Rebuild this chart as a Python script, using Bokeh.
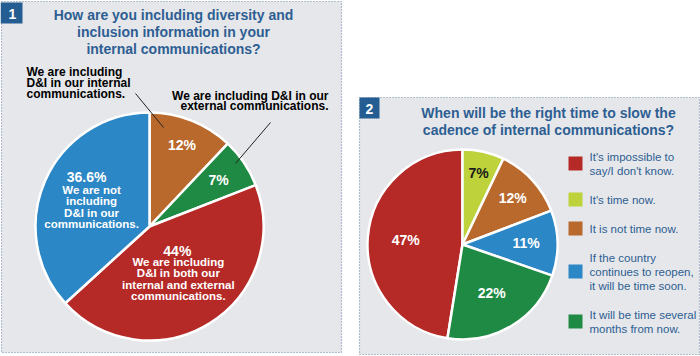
import numpy as np
from bokeh.plotting import figure
from bokeh.models import Range1d, ColumnDataSource
from bokeh.core.properties import value
from bokeh.embed import file_html
from bokeh.resources import INLINE

# ---------------- data ----------------
q1_title = ["How are you including diversity and",
            "inclusion information in your",
            "internal communications?"]
q1_labels = ["We are including\nD&I in our internal\ncommunications.",
             "We are including D&I in our\nexternal communications.",
             "We are including\nD&I in both our\ninternal and external\ncommunications.",
             "We are not\nincluding\nD&I in our\ncommunications."]
q1_values = [12, 7, 44, 36.6]
q1_pct = ["12%", "7%", "44%", "36.6%"]

q2_title = ["When will be the right time to slow the",
            "cadence of internal communications?"]
q2_labels = ["It's impossible to\nsay/I don't know.",
             "It's time now.",
             "It is not time now.",
             "If the country\ncontinues to reopen,\nit will be time soon.",
             "It will be time several\nmonths from now."]
q2_values = [47, 7, 12, 11, 22]
q2_pct = ["47%", "7%", "12%", "11%", "22%"]

# ---------------- styles ----------------
C1 = ["#b8692b", "#1f8a43", "#b52a27", "#2b87c6"]
C2 = ["#b52a27", "#bdd23b", "#b8692b", "#2b87c6", "#1f8a43"]
TITLE_C = "#2d5e93"
PANEL_C = "#e6e7ea"
DOT_C = "#7088a8"
FONT = value("Liberation Sans")

W, H = 700, 356
def fy(ry):
    return H - ry

p = figure(width=W, height=H, output_backend="svg", toolbar_location=None,
           x_range=Range1d(0, W), y_range=Range1d(0, H), min_border=0)
p.axis.visible = False
p.grid.visible = False
p.outline_line_color = None
p.background_fill_color = "white"
p.border_fill_color = "white"

# panels
p.quad(left=[1, 359], right=[341, 699], top=[fy(1), fy(97)], bottom=[fy(352), fy(354)],
       fill_color=PANEL_C, line_color=DOT_C, line_dash="1 2", line_width=1.2)
# badges
p.quad(left=[0, 359], right=[22, 379], top=[fy(2), fy(97)], bottom=[fy(23), fy(118)],
       fill_color="#245d91", line_color=None)
p.text(x=[12, 369], y=[fy(13), fy(108)], text=["1", "2"], text_color="white",
       text_font=FONT, text_font_style="bold", text_font_size="14px",
       text_align="center", text_baseline="middle")

def add_lines(xs, ys, texts, lh, **kw):
    rx, ry, rt = [], [], []
    for x, y, t in zip(xs, ys, texts):
        for i, line in enumerate(t.split("\n")):
            rx.append(x); ry.append(fy(y + i * lh)); rt.append(line)
    p.text(x=rx, y=ry, text=rt, text_font=FONT, text_baseline="middle", **kw)

# titles
add_lines([173], [14], ["\n".join(q1_title)], 17, text_color=TITLE_C,
          text_font_style="bold", text_font_size="14px", text_align="center")
add_lines([548], [112], ["\n".join(q2_title)], 17, text_color=TITLE_C,
          text_font_style="bold", text_font_size="14px", text_align="center")

def pie(cx, cy, r, vals, colors, start_frac=0.0):
    v = np.array(vals, dtype=float)
    frac = v / v.sum()
    cum = np.concatenate([[0], np.cumsum(frac)]) + start_frac
    starts = np.pi / 2 - 2 * np.pi * cum[:-1]
    ends = np.pi / 2 - 2 * np.pi * cum[1:]
    src = ColumnDataSource(dict(start=starts, end=ends, color=colors))
    p.wedge(x=cx, y=fy(cy), radius=r, start_angle="start", end_angle="end",
            direction="clock", fill_color="color", line_color="white",
            line_width=2.5, source=src)
    mid = (cum[:-1] + cum[1:]) / 2
    return mid

def anchors(cx, cy, r, mids, fr):
    xs = [cx + r * f * np.sin(2 * np.pi * m) for f, m in zip(fr, mids)]
    ys = [cy - r * f * np.cos(2 * np.pi * m) for f, m in zip(fr, mids)]
    return xs, ys

# ---- pie 1 ----
c1x, c1y, r1 = 149, 226, 114
mid1 = pie(c1x, c1y, r1, q1_values, C1)
ax1, ay1 = anchors(c1x, c1y, r1, mid1, [0.77, 0.73, 0.48, 0.575])
# small slices: percent only; large slices: percent above description block
pct_x = [ax1[0], ax1[1], ax1[2] - 1, ax1[3] - 3]
pct_y = [ay1[0], ay1[1], ay1[2] - 22.5, ay1[3] - 22.5]
p.text(x=pct_x, y=[fy(v) for v in pct_y], text=q1_pct, text_color="white",
       text_font=FONT, text_font_style="bold", text_font_size="14px",
       text_align="center", text_baseline="middle")
add_lines([ax1[2], ax1[3] + 2], [ay1[2] - 11, ay1[3] - 10], [q1_labels[2], q1_labels[3]], 11.4,
          text_color="white", text_font_style="bold", text_font_size="11.5px",
          text_align="center")
# callouts for small slices
add_lines([26], [71], [q1_labels[0]], 11, text_color="black",
          text_font_style="bold", text_font_size="12px", text_align="left")
add_lines([328], [95], [q1_labels[1]], 10.5, text_color="black",
          text_font_style="bold", text_font_size="12px", text_align="right")
p.segment(x0=[135, 270], y0=[fy(93), fy(122)], x1=[163, 235], y1=[fy(127), fy(163)],
          line_color="#222222", line_width=1)

# ---- pie 2 ----
c2x, c2y, r2 = 462, 244, 95
start2 = -q2_values[0] / sum(q2_values)
mid2 = pie(c2x, c2y, r2, q2_values, C2, start_frac=start2)
ax2, ay2 = anchors(c2x, c2y, r2, mid2, [0.6, 0.77, 0.72, 0.67, 0.6])
tcol2 = ["white", "#1a1a1a", "white", "white", "white"]
p.text(x=ax2, y=[fy(v) for v in ay2], text=q2_pct, text_color=tcol2,
       text_font=FONT, text_font_style="bold", text_font_size="14px",
       text_align="center", text_baseline="middle")

# legend
leg_lh, leg_gap, leg_y = 14, 15, 163
ycent = []
yc = leg_y
for i, lab in enumerate(q2_labels):
    n = lab.count("\n") + 1
    if i > 0:
        prev_n = q2_labels[i - 1].count("\n") + 1
        yc = yc + prev_n * leg_lh / 2 + leg_gap + n * leg_lh / 2
    ycent.append(yc)
p.rect(x=[575] * len(ycent), y=[fy(v) for v in ycent], width=14, height=14,
       fill_color=C2, line_color=None)
top_y = [c - lab.count("\n") * leg_lh / 2 for c, lab in zip(ycent, q2_labels)]
add_lines([589] * len(q2_labels), top_y, q2_labels, leg_lh, text_color=TITLE_C,
          text_font_size="11.5px", text_align="left")

open("out.html", "w").write(file_html(p, INLINE))
